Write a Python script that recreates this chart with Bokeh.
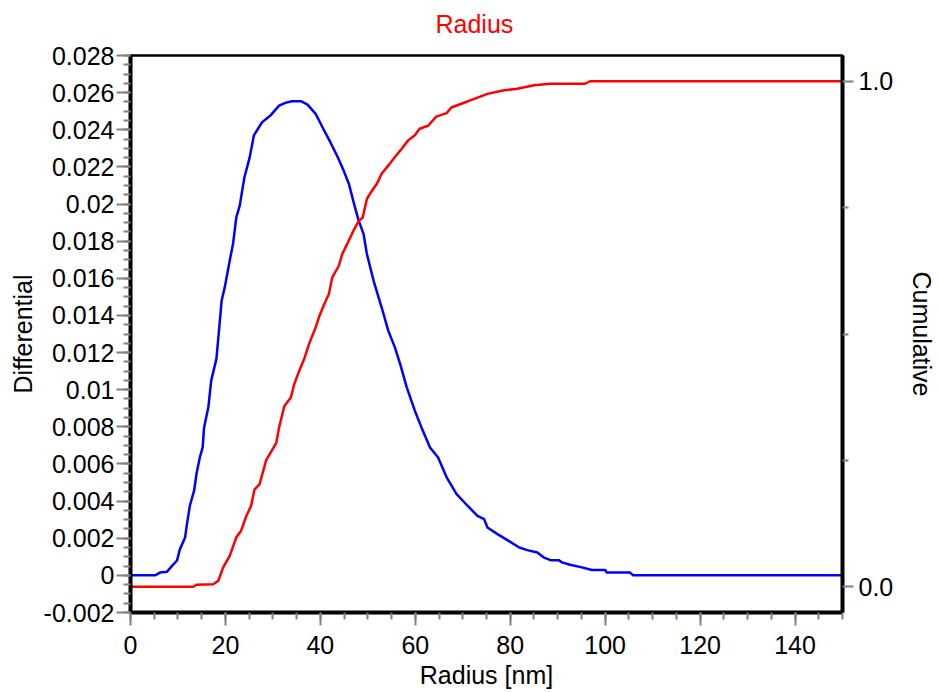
from bokeh.plotting import figure
from bokeh.models import Range1d, LinearAxis, FixedTicker
from bokeh.embed import file_html
from bokeh.resources import INLINE

# ---- data ----
radius_diff = [0, 5.2, 6.3, 7.7, 8.7, 9.8, 10.4, 11.5, 11.8, 12.5, 13.4, 13.9, 14.6, 15.2, 15.5,
               16.4, 17.0, 18.1, 18.7, 19.2, 19.85, 20.9, 21.6, 22.3, 23.0, 24.0, 25.1, 26.0, 27.7,
               29.6, 31.3, 32.6, 34.0, 35.9, 37.3, 39.0, 40.8, 42.1, 43.5, 44.9, 46.0, 47.0, 48.06,
               49.1, 49.8, 51.2, 52.9, 54.3, 55.7, 56.8, 58.2, 59.9, 61.3, 63.1, 64.8, 66.6, 68.7,
               71.0, 73.1, 74.5, 75.2, 77.3, 79.4, 81.9, 83.6, 85.7, 87.1, 88.5, 90.2, 90.9, 92.6,
               95.1, 97.2, 100.0, 100.3, 105.2, 105.9, 150]
differential = [0, 0, 0.00016, 0.0002, 0.0005, 0.0008, 0.0014, 0.00204, 0.0026, 0.00375, 0.00456,
                0.00546, 0.00635, 0.00689, 0.00797, 0.00905, 0.01049, 0.01166, 0.01336, 0.0148,
                0.01551, 0.01695, 0.01785, 0.01929, 0.0199, 0.02144, 0.0225, 0.0237, 0.0244, 0.0248,
                0.0253, 0.02545, 0.02554, 0.02554, 0.02535, 0.02486, 0.02396, 0.02333, 0.02261,
                0.0218, 0.02109, 0.0201, 0.01911, 0.01839, 0.01731, 0.01588, 0.01444, 0.01318,
                0.01228, 0.01139, 0.01013, 0.00887, 0.00797, 0.00689, 0.00635, 0.00528, 0.00438,
                0.00375, 0.00321, 0.00303, 0.00258, 0.00222, 0.0019, 0.0015, 0.00136, 0.00123,
                0.00096, 0.00082, 0.00082, 0.0007, 0.00057, 0.00043, 0.00029, 0.00029, 0.00016,
                0.00016, 0, 0]

radius_cum = [0, 13.2, 13.9, 17.4, 18.5, 19.5, 20.9, 22.3, 23.3, 24.4, 25.4, 26.1, 27.2, 28.6, 30.7,
              31.3, 32.4, 33.8, 34.5, 35.5, 36.6, 37.6, 39.0, 39.7, 40.8, 41.8, 42.5, 43.9, 44.6,
              46.0, 47.0, 48.1, 48.9, 49.8, 50.9, 51.9, 52.9, 54.3, 55.7, 57.1, 58.5, 59.9, 60.9,
              62.7, 64.4, 66.6, 67.6, 68.7, 71.0, 75.2, 78.7, 81.5, 85.0, 88.4, 95.8, 96.8, 150]
cumulative = [0, 0, 0.004, 0.005, 0.012, 0.038, 0.061, 0.098, 0.111, 0.14, 0.16, 0.192, 0.203, 0.251,
              0.284, 0.315, 0.357, 0.375, 0.401, 0.426, 0.451, 0.48, 0.513, 0.533, 0.559, 0.579,
              0.612, 0.635, 0.658, 0.685, 0.705, 0.724, 0.73, 0.767, 0.784, 0.797, 0.817, 0.833,
              0.85, 0.866, 0.883, 0.893, 0.906, 0.912, 0.93, 0.937, 0.948, 0.952, 0.96, 0.975,
              0.982, 0.985, 0.992, 0.995, 0.995, 1.0, 1.0]

x_ticks = [0, 20, 40, 60, 80, 100, 120, 140]
x_minor = [v * 5 for v in range(0, 31)]
y_ticks = [-0.002, 0.0, 0.002, 0.004, 0.006, 0.008, 0.01, 0.012, 0.014, 0.016, 0.018,
           0.02, 0.022, 0.024, 0.026, 0.028]
y_tick_labels = ["-0.002", "0", "0.002", "0.004", "0.006", "0.008", "0.01", "0.012", "0.014",
                 "0.016", "0.018", "0.02", "0.022", "0.024", "0.026", "0.028"]
y_minor = [round(-0.002 + i * 0.0005, 6) for i in range(0, 61)]
r_ticks = [0.0, 1.0]
r_tick_labels = ["0.0", "1.0"]
r_minor = [0.25, 0.5, 0.75]

FONT = "Liberation Sans"
FS = "25px"

p = figure(width=939, height=692, output_backend="svg", toolbar_location=None,
           x_range=Range1d(0, 150), y_range=Range1d(-0.002, 0.028),
           min_border_left=130, min_border_right=92, min_border_top=55, min_border_bottom=80,
           background_fill_color="white", border_fill_color="white")
p.extra_y_ranges = {"cum": Range1d(-0.0509, 1.0509)}

xa = p.below[0]
ya = p.left[0]

p.title.text = "Radius"
p.title.text_color = "#FF0000"
p.title.text_font = FONT
p.title.text_font_size = FS
p.title.text_font_style = "normal"
p.title.align = "left"
p.title.offset = 305
p.title.standoff = 0

# invisible spacer between the title and the plot frame (one hidden tick)
spacer = LinearAxis(ticker=FixedTicker(ticks=[75], minor_ticks=[]))
spacer.axis_line_color = None
spacer.major_tick_line_color = None
spacer.minor_tick_line_color = None
spacer.major_tick_in = 0
spacer.major_tick_out = 18
spacer.minor_tick_in = 0
spacer.minor_tick_out = 0
spacer.major_label_standoff = 0
spacer.major_label_text_font_size = "1px"
spacer.major_label_text_color = None
p.add_layout(spacer, "above")

p.xgrid.visible = False
p.ygrid.visible = False
p.outline_line_color = "black"
p.outline_line_width = 2.5
p.outline_line_alpha = 1.0

p.line(radius_diff, differential, line_color="#0000FF", line_width=2.5)
p.line(radius_cum, cumulative, line_color="#FF0000", line_width=2.5, y_range_name="cum")

right = LinearAxis(y_range_name="cum")
p.add_layout(right, "right")


def style(ax):
    ax.axis_line_color = "black"
    ax.axis_line_width = 4
    ax.major_tick_line_color = "#808080"
    ax.minor_tick_line_color = "#808080"
    ax.major_tick_line_width = 2
    ax.minor_tick_line_width = 2
    ax.major_tick_in = 0
    ax.minor_tick_in = 0
    ax.major_label_text_font = FONT
    ax.major_label_text_font_size = FS
    ax.major_label_text_color = "black"
    ax.axis_label_text_font = FONT
    ax.axis_label_text_font_size = FS
    ax.axis_label_text_font_style = "normal"
    ax.axis_label_text_color = "black"


style(xa)
xa.ticker = FixedTicker(ticks=x_ticks, minor_ticks=x_minor)
xa.major_tick_out = 13
xa.minor_tick_out = 7
xa.major_label_standoff = 10
xa.axis_label = "Radius [nm]"
xa.axis_label_standoff = 4

style(ya)
ya.ticker = FixedTicker(ticks=y_ticks, minor_ticks=y_minor)
ya.major_label_overrides = {t: l for t, l in zip(y_ticks, y_tick_labels)}
ya.major_tick_out = 14
ya.minor_tick_out = 7
ya.major_label_standoff = 2
ya.axis_label = "Differential"
ya.axis_label_standoff = 4

style(right)
right.ticker = FixedTicker(ticks=r_ticks, minor_ticks=r_minor)
right.major_label_overrides = {t: l for t, l in zip(r_ticks, r_tick_labels)}
right.major_tick_out = 11
right.minor_tick_out = 6
right.major_label_standoff = 5
right.axis_label = "Cumulative"
right.axis_label_standoff = 12

open("out.html", "w").write(file_html(p, INLINE))
